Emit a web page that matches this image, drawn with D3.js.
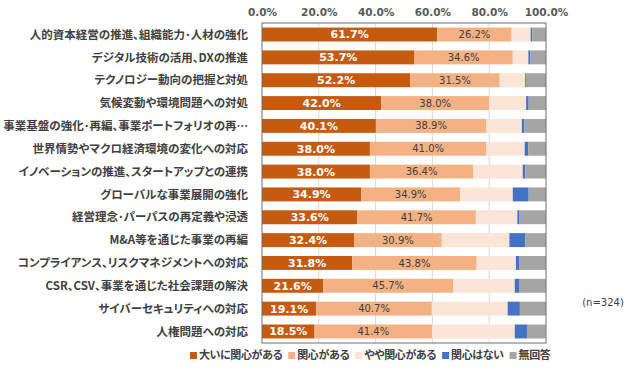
<!DOCTYPE html>
<html>
<head>
<meta charset="utf-8">
<script src="https://cdn.jsdelivr.net/npm/d3@7"></script>
<style>
  body { margin: 0; background: #fff; }
  text { font-family: "Noto Sans CJK JP", "Noto Sans", sans-serif; }
  .jp { font-feature-settings: "palt" 1; }
</style>
</head>
<body>
<svg id="chart" width="643" height="375"></svg>
<script>
// categories (top to bottom)
let categories = [
  "人的資本経営の推進、組織能力･人材の強化",
  "デジタル技術の活用、DXの推進",
  "テクノロジー動向の把握と対処",
  "気候変動や環境問題への対処",
  "事業基盤の強化･再編、事業ポートフォリオの再…",
  "世界情勢やマクロ経済環境の変化への対応",
  "イノベーションの推進、スタートアップとの連携",
  "グローバルな事業展開の強化",
  "経営理念･パーパスの再定義や浸透",
  "M&A等を通じた事業の再編",
  "コンプライアンス、リスクマネジメントへの対応",
  "CSR、CSV、事業を通じた社会課題の解決",
  "サイバーセキュリティへの対応",
  "人権問題への対応"
];

let seriesNames = ["大いに関心がある", "関心がある", "やや関心がある", "関心はない", "無回答"];
let seriesColors = ["#C55A11", "#F4B183", "#FBE5D6", "#4472C4", "#A5A5A5"];

// values in %
let veryInterested = [61.7, 53.7, 52.2, 42.0, 40.1, 38.0, 38.0, 34.9, 33.6, 32.4, 31.8, 21.6, 19.1, 18.5];
let interested     = [26.2, 34.6, 31.5, 38.0, 38.9, 41.0, 36.4, 34.9, 41.7, 30.9, 43.8, 45.7, 40.7, 41.4];
let somewhat       = [6.7, 5.5, 8.9, 13.0, 12.5, 13.5, 17.4, 18.5, 14.6, 23.8, 13.8, 21.7, 26.7, 29.1];
let notInterested  = [0.6, 0.6, 0.3, 0.9, 0.9, 1.2, 0.9, 5.6, 0.8, 5.6, 1.3, 1.5, 4.3, 4.3];
let noAnswer       = [4.8, 5.6, 7.1, 6.1, 7.6, 6.3, 7.3, 6.1, 9.3, 7.3, 9.3, 9.5, 9.2, 6.6];

let xTicks = [0, 20, 40, 60, 80, 100];
let sampleNote = "(n=324)";

let rows = categories.map((c, i) => ({
  cat: c,
  s0: veryInterested[i], s1: interested[i], s2: somewhat[i], s3: notInterested[i], s4: noAnswer[i]
}));

let svg = d3.select("#chart");
let plotLeft = 262, plotRight = 546, plotTop = 23, plotBottom = 343;

let x = d3.scaleLinear().domain([0, 100]).range([plotLeft, plotRight]);
let y = d3.scaleBand().domain(categories).range([plotTop, plotBottom]).paddingInner(0.39).paddingOuter(0.2);

// gridlines
svg.append("g")
  .selectAll("line")
  .data(xTicks.slice(1, -1))
  .enter()
  .append("line")
  .attr("x1", d => x(d)).attr("x2", d => x(d))
  .attr("y1", plotTop).attr("y2", plotBottom)
  .attr("stroke", "#D9D9D9").attr("stroke-width", 1);

// top axis labels
let xAxis = d3.axisTop(x).tickValues(xTicks).tickFormat(d => d.toFixed(1) + "%").tickSize(0).tickPadding(0);
let axisG = svg.append("g").attr("transform", "translate(0,16)").call(xAxis);
axisG.select(".domain").remove();
axisG.selectAll("text")
  .attr("font-size", "10.5px")
  .attr("font-weight", "bold")
  .attr("fill", "#595959")
  .style("font-family", "'DejaVu Sans', sans-serif");

// stacked bars
let keys = ["s0", "s1", "s2", "s3", "s4"];
let stacked = d3.stack().keys(keys)(rows);

let layers = svg.append("g")
  .selectAll("g")
  .data(stacked)
  .enter()
  .append("g")
  .attr("fill", (d, i) => seriesColors[i]);

layers.selectAll("rect")
  .data(d => d)
  .enter()
  .append("rect")
  .attr("x", d => x(d[0]))
  .attr("y", d => y(d.data.cat))
  .attr("width", d => x(d[1]) - x(d[0]))
  .attr("height", y.bandwidth());

// value labels for first two series
[0, 1].forEach(k => {
  svg.append("g")
    .selectAll("text")
    .data(stacked[k])
    .enter()
    .append("text")
    .attr("x", d => (x(d[0]) + x(d[1])) / 2)
    .attr("y", d => y(d.data.cat) + y.bandwidth() / 2)
    .attr("dy", "0.36em")
    .attr("text-anchor", "middle")
    .attr("font-size", k == 0 ? "11px" : "10px")
    .attr("font-weight", k == 0 ? "bold" : "normal")
    .attr("fill", k == 0 ? "#ffffff" : "#404040")
    .style("font-family", "'DejaVu Sans', sans-serif")
    .text(d => (d[1] - d[0]).toFixed(1) + "%");
});

// plot border
svg.append("rect")
  .attr("x", plotLeft).attr("y", plotTop)
  .attr("width", plotRight - plotLeft).attr("height", plotBottom - plotTop)
  .attr("fill", "none").attr("stroke", "#6F6F6F").attr("stroke-width", 1);

// category labels
svg.append("g")
  .selectAll("text")
  .data(categories)
  .enter()
  .append("text")
  .attr("class", "jp")
  .attr("x", 248)
  .attr("y", d => y(d) + y.bandwidth() / 2)
  .attr("dy", "0.36em")
  .attr("text-anchor", "end")
  .attr("font-size", "11.5px")
  .attr("font-weight", "bold")
  .attr("fill", "#404040")
  .text(d => d);

// legend
let legend = svg.append("g");
let lx = 190;
seriesNames.forEach((name, i) => {
  legend.append("rect")
    .attr("x", lx).attr("y", 352)
    .attr("width", 7).attr("height", 7)
    .attr("fill", seriesColors[i]);
  let t = legend.append("text")
    .attr("class", "jp")
    .attr("x", lx + 9).attr("y", 355.5)
    .attr("dy", "0.36em")
    .attr("font-size", "11px")
    .attr("font-weight", "bold")
    .attr("letter-spacing", "-0.4px")
    .attr("fill", "#404040")
    .text(name);
  lx += 9 + t.node().getComputedTextLength() + 6;
});

// sample size
svg.append("text")
  .attr("x", 603).attr("y", 306)
  .attr("text-anchor", "middle")
  .attr("font-size", "10px")
  .attr("fill", "#404040")
  .style("font-family", "'DejaVu Sans', sans-serif")
  .text(sampleNote);
</script>
</body>
</html>
